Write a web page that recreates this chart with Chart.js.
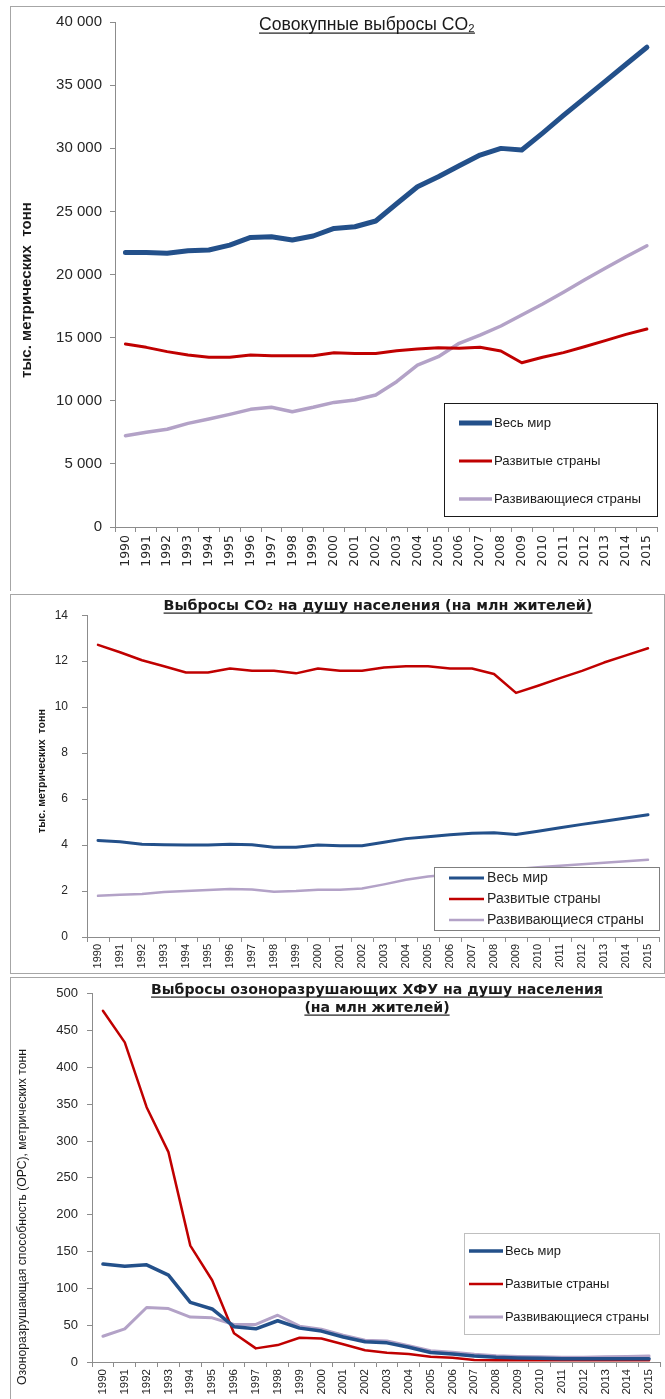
<!DOCTYPE html>
<html lang="ru">
<head>
<meta charset="utf-8">
<title>Выбросы CO2 и ХФУ</title>
<script src="https://cdn.jsdelivr.net/npm/chart.js@4.4.1/dist/chart.umd.min.js"></script>
<style>
html,body{margin:0;padding:0;background:#fff;}
body{width:665px;height:1399px;position:relative;overflow:hidden;}
.panel{position:absolute;border:1px solid #a6a6a6;box-sizing:border-box;}
.wrap{position:absolute;left:0;width:665px;}
</style>
</head>
<body>
<div class="panel" style="left:10px;top:6px;width:700px;height:585px;border-bottom:none;"></div>
<div class="panel" style="left:10px;top:594px;width:655px;height:380px;"></div>
<div class="panel" style="left:10px;top:977px;width:700px;height:500px;"></div>
<div class="wrap" style="top:0;height:590px"><canvas id="c1"></canvas></div>
<div class="wrap" style="top:594px;height:379px"><canvas id="c2"></canvas></div>
<div class="wrap" style="top:977px;height:422px"><canvas id="c3"></canvas></div>
<script>
// ---------- DATA ----------
const years = ['1990','1991','1992','1993','1994','1995','1996','1997','1998','1999','2000','2001','2002',
               '2003','2004','2005','2006','2007','2008','2009','2010','2011','2012','2013','2014','2015'];
const seriesNames = ['Весь мир', 'Развитые страны', 'Развивающиеся страны'];

// Chart 1: total CO2, thousand metric tons
const totalWorld      = [21750,21750,21680,21880,21940,22330,22940,22990,22730,23050,23650,23780,24240,
                         25600,26950,27740,28620,29460,29990,29860,31200,32600,33950,35300,36650,38000];
const totalDeveloped  = [14500,14230,13890,13620,13440,13440,13620,13570,13570,13570,13810,13750,13750,
                         13960,14100,14200,14150,14230,13940,13010,13440,13810,14280,14760,15260,15680];
const totalDeveloping = [7230,7500,7740,8210,8550,8920,9320,9480,9130,9480,9870,10060,10450,
                         11510,12830,13490,14550,15200,15920,16790,17660,18590,19560,20490,21410,22280];
const totalTicks = [0,5000,10000,15000,20000,25000,30000,35000,40000];

// Chart 2: CO2 per capita
const capWorld      = [4.20,4.14,4.04,4.01,4.00,4.00,4.04,4.01,3.90,3.90,4.00,3.97,3.97,
                       4.12,4.28,4.36,4.45,4.51,4.54,4.46,4.60,4.75,4.90,5.04,5.18,5.32];
const capDeveloped  = [12.71,12.39,12.04,11.78,11.51,11.51,11.68,11.58,11.58,11.47,11.68,11.58,11.58,
                       11.72,11.78,11.78,11.68,11.68,11.44,10.62,10.93,11.26,11.58,11.94,12.25,12.56];
const capDeveloping = [1.79,1.84,1.87,1.96,2.00,2.04,2.09,2.07,1.97,2.00,2.06,2.06,2.11,
                       2.29,2.49,2.63,2.72,2.80,2.88,2.96,3.03,3.10,3.17,3.23,3.30,3.36];
const capTicks = [0,2,4,6,8,10,12,14];

// Chart 3: ozone-depleting CFC per capita
const odsWorld      = [133,130,132,118,81,72,48,45,56,46,42,34,27.5,
                       26,20,13,11,8,6.3,5.5,5,4.5,4.3,4.5,4.5,4.5];
const odsDeveloped  = [477,434,346,285,158,111,39,18.5,23,33,32,24,16,
                       12.6,10.8,7.2,5.9,2.7,2.5,2.5,2.5,2.5,2.5,2.5,2.5,2.5];
const odsDeveloping = [35,45,74,72.5,61,60,51,51,63.5,48.6,44.6,36.5,29.7,
                       28.4,22,15.3,13.1,10.4,8.5,7.5,7,6.5,6.5,7,7.5,8];
const odsTicks = [0,50,100,150,200,250,300,350,400,450,500];

const title1 = ['Совокупные выбросы CO₂'];
const title2 = ['Выбросы CO₂ на душу населения (на млн жителей)'];
const title3 = ['Выбросы озоноразрушающих ХФУ на душу населения', '(на млн жителей)'];
const yTitle1 = 'тыс. метрических  тонн';
const yTitle2 = 'тыс. метрических  тонн';
const yTitle3 = 'Озоноразрушающая способность (ОРС), метрических тонн';

// ---------- STYLE ----------
const AX = '#8c8c8c';
const TXT = '#262626';
const C_WORLD = '#23508A';
const C_DEV = '#C00000';
const C_DVG = '#B3A2C7';
const F_LIB = '"Liberation Sans", Arial, sans-serif';
const F_DV = '"DejaVu Sans", Verdana, sans-serif';

function fmtThousands(v){ return String(v).replace(/\B(?=(\d{3})+(?!\d))/g, ' '); }

function fitFont(ctx, text, weight, family, width){
  ctx.font = weight + ' 100px ' + family;
  const m = ctx.measureText(text).width;
  return weight + ' ' + (100 * width / m).toFixed(2) + 'px ' + family;
}

const decor = {
  id: 'decor',
  afterDraw(chart, args, o){
    const ctx = chart.ctx;
    ctx.save();
    // title (underlined)
    const t = o.title;
    const tf = fitFont(ctx, t.lines[0], t.weight, t.family, t.width);
    ctx.font = tf;
    ctx.fillStyle = t.color; ctx.textAlign = 'center'; ctx.textBaseline = 'alphabetic';
    t.lines.forEach((line, i) => {
      const y = t.baselines[i];
      ctx.fillText(line, t.cx, y);
      const w = ctx.measureText(line).width;
      ctx.fillRect(t.cx - w/2, y + t.ul, w, t.ulw);
    });
    // y-axis title
    const a = o.ytitle;
    ctx.save();
    ctx.translate(a.x, a.cy); ctx.rotate(-Math.PI/2);
    ctx.font = fitFont(ctx, a.text, a.weight, a.family, a.width);
    ctx.fillStyle = a.color; ctx.textAlign = 'center'; ctx.textBaseline = 'middle';
    ctx.fillText(a.text, 0, 0);
    ctx.restore();
    // legend box
    const L = o.legend;
    ctx.fillStyle = '#fff'; ctx.fillRect(L.x, L.y, L.w, L.h);
    ctx.strokeStyle = L.border; ctx.lineWidth = 1;
    ctx.strokeRect(L.x + 0.5, L.y + 0.5, L.w - 1, L.h - 1);
    const ds = chart.data.datasets;
    const longest = ds.reduce((s, d) => d.label.length > s.length ? d.label : s, '');
    const lf = fitFont(ctx, longest, L.weight, L.family, L.tw);
    ds.forEach((d, i) => {
      const y = L.rows[i];
      ctx.strokeStyle = d.borderColor; ctx.lineWidth = d.borderWidth; ctx.lineCap = 'butt';
      ctx.beginPath(); ctx.moveTo(L.lx1, y); ctx.lineTo(L.lx2, y); ctx.stroke();
      ctx.font = lf; ctx.fillStyle = L.color; ctx.textAlign = 'left'; ctx.textBaseline = 'middle';
      ctx.fillText(d.label, L.tx, y);
    });
    ctx.restore();
  }
};

function makeChart(id, series, widths, ticksArr, cfg){
  const colors = [C_WORLD, C_DEV, C_DVG];
  return new Chart(document.getElementById(id), {
    type: 'line',
    data: {
      labels: years,
      datasets: series.map((s, i) => ({
        label: seriesNames[i], data: s, borderColor: colors[i], backgroundColor: colors[i],
        borderWidth: widths[i], pointRadius: 0, tension: 0, fill: false,
        borderCapStyle: 'round', borderJoinStyle: 'round'
      }))
    },
    options: {
      responsive: true, maintainAspectRatio: false, animation: false, events: [],
      layout: { padding: cfg.padding },
      plugins: { legend: { display: false }, tooltip: { enabled: false }, title: { display: false },
                 decor: cfg.decor },
      scales: {
        x: {
          type: 'category', offset: true,
          grid: { display: true, drawOnChartArea: false, drawTicks: true, tickLength: 5, offset: true, color: AX },
          border: { display: true, color: AX, width: 1 },
          ticks: { autoSkip: false, minRotation: 90, maxRotation: 90, padding: cfg.xpad, font: cfg.xfont, color: TXT },
          afterFit: s => { s.height = cfg.xh; }
        },
        y: {
          min: ticksArr[0], max: ticksArr[ticksArr.length - 1],
          afterBuildTicks: s => { s.ticks = ticksArr.map(v => ({ value: v })); },
          grid: { drawOnChartArea: false, drawTicks: true, tickLength: 5, color: AX },
          border: { display: true, color: AX, width: 1 },
          ticks: { padding: cfg.ypad, font: cfg.yfont, color: TXT, callback: v => fmtThousands(v) },
          afterFit: s => { s.width = cfg.yw; }
        }
      }
    },
    plugins: [decor]
  });
}

makeChart('c1', [totalWorld, totalDeveloped, totalDeveloping], [5, 3, 3.5], totalTicks, {
  padding: { left: 0, top: 22, right: 5, bottom: 0 }, yw: 115, xh: 63,
  yfont: { family: F_LIB, size: 15 }, ypad: 8,
  xfont: { family: F_DV, size: 12.5 }, xpad: 3,
  decor: {
    title: { lines: title1, weight: '400', family: F_LIB, width: 216, cx: 367, baselines: [29.5], ul: 3, ulw: 1.2, color: '#1a1a1a' },
    ytitle: { text: yTitle1, weight: '700', family: F_LIB, width: 176, x: 27, cy: 290, color: '#1a1a1a' },
    legend: { x: 444, y: 403, w: 214, h: 114, rows: [423, 461, 499], lx1: 459, lx2: 492, tx: 494, tw: 147,
              weight: '400', family: F_LIB, color: '#1a1a1a', border: '#1a1a1a' }
  }
});

makeChart('c2', [capWorld, capDeveloped, capDeveloping], [3, 2.5, 2.5], capTicks, {
  padding: { left: 0, top: 13, right: 6, bottom: 0 }, yw: 87, xh: 36,
  yfont: { family: F_LIB, size: 12 }, ypad: 14,
  xfont: { family: F_LIB, size: 11 }, xpad: 2,
  decor: {
    title: { lines: title2, weight: '700', family: F_DV, width: 429, cx: 378, baselines: [16], ul: 2.5, ulw: 1.2, color: '#1a1a1a' },
    ytitle: { text: yTitle2, weight: '700', family: F_LIB, width: 124, x: 42, cy: 177, color: '#1a1a1a' },
    legend: { x: 434, y: 273, w: 226, h: 64, rows: [284, 305, 326], lx1: 449, lx2: 484, tx: 487, tw: 157,
              weight: '400', family: F_LIB, color: '#262626', border: '#7f7f7f' }
  }
});

makeChart('c3', [odsWorld, odsDeveloped, odsDeveloping], [3.5, 2.5, 3], odsTicks, {
  padding: { left: 0, top: 15, right: 5, bottom: 0 }, yw: 92, xh: 37,
  yfont: { family: F_LIB, size: 13 }, ypad: 9,
  xfont: { family: F_LIB, size: 11.5 }, xpad: 2,
  decor: {
    title: { lines: title3, weight: '700', family: F_DV, width: 452, cx: 377, baselines: [17, 35], ul: 2.5, ulw: 1.2, color: '#1a1a1a' },
    ytitle: { text: yTitle3, weight: '400', family: F_LIB, width: 336, x: 23, cy: 240, color: '#1a1a1a' },
    legend: { x: 464, y: 256, w: 196, h: 102, rows: [274, 307, 340], lx1: 469, lx2: 503, tx: 505, tw: 144,
              weight: '400', family: F_LIB, color: '#1a1a1a', border: '#bfbfbf' }
  }
});
</script>
</body>
</html>
